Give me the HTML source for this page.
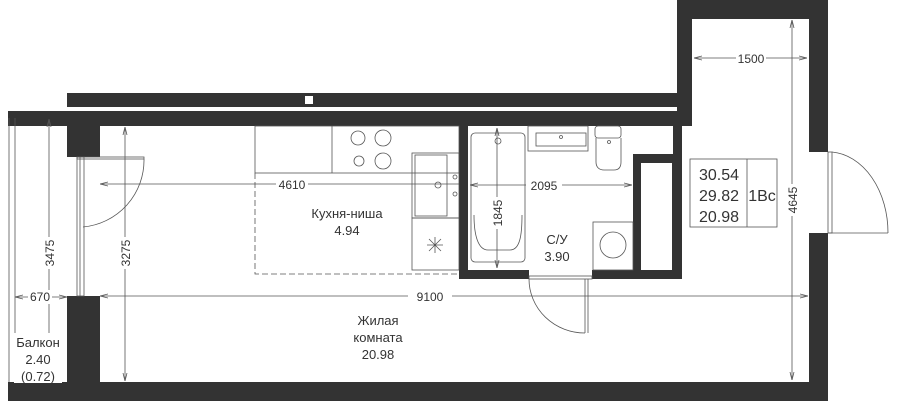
<!DOCTYPE html>
<html><head><meta charset="utf-8"><style>html,body{margin:0;padding:0;background:#fff}svg{display:block}text{font-family:"Liberation Sans",sans-serif;fill:#333}</style></head><body>
<svg width="900" height="401" viewBox="0 0 900 401" xmlns="http://www.w3.org/2000/svg">
<defs><marker id="a" viewBox="0 0 10 6" refX="10" refY="3" markerWidth="10" markerHeight="6" orient="auto-start-reverse"><path d="M0,0.5L10,3L0,5.5" fill="none" stroke="#555" stroke-width="1"/></marker></defs>
<g fill="#333">
<rect x="677" y="0" width="151" height="19"/>
<rect x="677" y="0" width="15" height="126"/>
<rect x="809" y="0" width="19" height="152"/>
<rect x="809" y="233" width="19" height="168"/>
<rect x="67" y="93" width="610" height="14"/>
<rect x="8" y="111" width="684" height="15"/>
<rect x="8" y="111" width="59" height="7"/>
<rect x="67" y="111" width="33" height="46"/>
<rect x="67" y="296" width="33" height="105"/>
<rect x="8" y="382" width="820" height="19"/>
<rect x="459" y="126" width="9" height="153"/>
<rect x="459" y="270" width="70" height="9"/>
<rect x="592" y="270" width="90" height="9"/>
<rect x="673" y="126" width="9" height="153"/>
<rect x="633" y="154" width="49" height="125"/>
</g>
<rect x="641" y="163" width="31" height="107" fill="#fff"/>
<rect x="305" y="96" width="8" height="8" fill="#fff"/>
<rect x="333" y="107" width="344" height="3" fill="#fff"/>
<g fill="none" stroke="#555" stroke-width="0.8">
<line x1="9" y1="118" x2="9" y2="382"/><line x1="15" y1="118" x2="15" y2="382"/>
<rect x="77" y="157" width="7" height="139"/><line x1="80" y1="157" x2="80" y2="296"/>
<rect x="77" y="157" width="67" height="2"/>
<path d="M144,159 A67,67 0 0 1 83,227"/>
<rect x="828" y="152" width="4" height="81"/>
<line x1="828" y1="233" x2="888" y2="233"/>
<path d="M888,233 A60,81 0 0 0 832,152"/>
<rect x="529" y="276" width="63" height="3"/>
<line x1="585" y1="279" x2="585" y2="333"/><line x1="588" y1="279" x2="588" y2="333"/>
<path d="M529,279 A56,54 0 0 0 585,333"/>
<rect x="255" y="126" width="204" height="47"/><line x1="332" y1="126" x2="332" y2="173"/>
<circle cx="358" cy="138" r="7"/><circle cx="383" cy="138" r="8"/><circle cx="359" cy="161" r="5"/><circle cx="383" cy="161" r="8"/>
<rect x="412" y="153" width="47" height="65"/><rect x="415" y="155" width="32" height="61"/>
<circle cx="438" cy="185" r="3"/><circle cx="455" cy="177" r="2"/><circle cx="455" cy="194" r="2"/>
<rect x="412" y="218" width="47" height="52"/>
<path d="M427,245h16M435,237v16M429,239l12,12M441,239l-12,12"/>
<path d="M255,173V274H459" stroke-dasharray="6,3"/>
<rect x="471" y="133" width="54" height="129" rx="4"/>
<path d="M474,215c0,20 4,35 14,35h22c10,0 12,-15 12,-35"/>
<circle cx="498" cy="141" r="3"/>
<rect x="528" y="126" width="60" height="25"/><rect x="536" y="133" width="50" height="13"/>
<circle cx="561" cy="137" r="1.5"/>
<rect x="595" y="126" width="26" height="12" rx="3"/><path d="M596,138v24c0,5 3,8 8,8h10c5,0 7,-3 7,-8v-24"/>
<circle cx="609" cy="142" r="1.5"/>
<rect x="593" y="222" width="40" height="48"/><circle cx="613" cy="245" r="13"/>
<rect x="690" y="159" width="87" height="68"/><line x1="747" y1="159" x2="747" y2="227"/>
</g>
<g stroke="#555" stroke-width="0.8" fill="none">
<line x1="694" y1="58" x2="807" y2="58" marker-start="url(#a)" marker-end="url(#a)"/>
<line x1="792" y1="20" x2="792" y2="380" marker-start="url(#a)" marker-end="url(#a)"/>
<line x1="100" y1="296" x2="808" y2="296" marker-start="url(#a)" marker-end="url(#a)"/>
<line x1="470" y1="185" x2="632" y2="185" marker-start="url(#a)" marker-end="url(#a)"/>
<line x1="497" y1="128" x2="497" y2="268" marker-start="url(#a)" marker-end="url(#a)"/>
<line x1="100" y1="184" x2="459" y2="184" marker-start="url(#a)"/>
<line x1="125" y1="127" x2="125" y2="381" marker-start="url(#a)" marker-end="url(#a)"/>
<line x1="49" y1="119" x2="49" y2="381" marker-start="url(#a)" marker-end="url(#a)"/>
<line x1="15" y1="297" x2="67" y2="297" marker-start="url(#a)" marker-end="url(#a)"/>
</g>
<g font-size="12" text-anchor="middle">
<rect x="736" y="51" width="30" height="14" fill="#fff"/><text x="751" y="63">1500</text>
<rect x="408" y="290" width="44" height="14" fill="#fff"/><text x="430" y="301">9100</text>
<rect x="526" y="178" width="36" height="14" fill="#fff"/><text x="544" y="190">2095</text>
<rect x="276" y="177" width="32" height="14" fill="#fff"/><text x="292" y="189">4610</text>
<rect x="28" y="290" width="24" height="14" fill="#fff"/><text x="40" y="301">670</text>
<g transform="translate(797,200) rotate(-90)"><rect x="-16" y="-11" width="32" height="13" fill="#fff"/><text x="0" y="0">4645</text></g>
<g transform="translate(502,213) rotate(-90)"><rect x="-16" y="-11" width="32" height="13" fill="#fff"/><text x="0" y="0">1845</text></g>
<g transform="translate(130,253) rotate(-90)"><rect x="-16" y="-11" width="32" height="13" fill="#fff"/><text x="0" y="0">3275</text></g>
<g transform="translate(54,253) rotate(-90)"><rect x="-16" y="-11" width="32" height="13" fill="#fff"/><text x="0" y="0">3475</text></g>
</g>
<g font-size="13" text-anchor="middle">
<text x="347" y="218">Кухня-ниша</text><text x="347" y="235">4.94</text>
<text x="557" y="244">С/У</text><text x="557" y="261">3.90</text>
<text x="378" y="325">Жилая</text><text x="378" y="342">комната</text><text x="378" y="359">20.98</text>
<rect x="14" y="333" width="48" height="50" fill="#fff"/>
<text x="38" y="347">Балкон</text><text x="38" y="364">2.40</text><text x="38" y="381">(0.72)</text>
</g>
<g font-size="16" text-anchor="middle">
<text x="719" y="180">30.54</text><text x="719" y="201">29.82</text><text x="719" y="222">20.98</text>
<text x="762" y="201">1Вс</text>
</g>
</svg>
</body></html>
